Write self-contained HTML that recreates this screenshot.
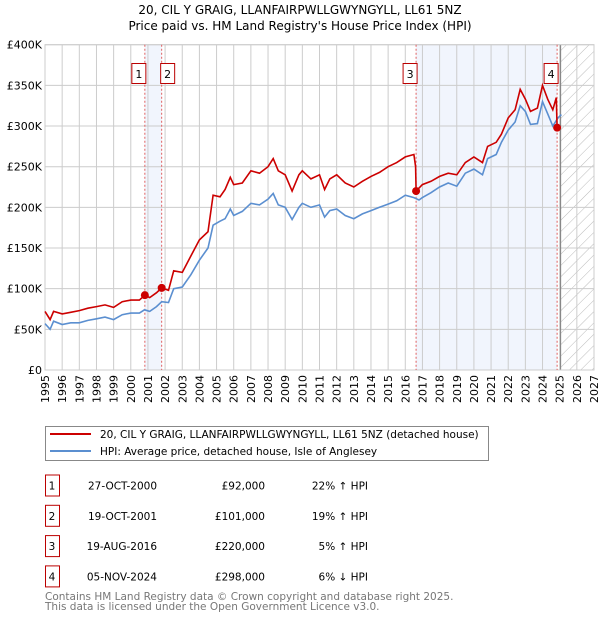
<!DOCTYPE html>
<html><head><meta charset="utf-8"><style>
body{margin:0;background:#fff;width:600px;height:620px;overflow:hidden;font-family:"DejaVu Sans","Liberation Sans",sans-serif;}
svg text{font-family:"DejaVu Sans","Liberation Sans",sans-serif;}
</style></head><body>
<svg id="chart" width="600" height="620" xmlns="http://www.w3.org/2000/svg">
<defs><pattern id="hatch" width="8" height="8" patternUnits="userSpaceOnUse" patternTransform="rotate(45)"><line x1="0" y1="0" x2="0" y2="8" stroke="#bbb" stroke-width="1"/></pattern></defs>
<text x="300" y="14" text-anchor="middle" font-size="12">20, CIL Y GRAIG, LLANFAIRPWLLGWYNGYLL, LL61 5NZ</text>
<text x="300" y="30" text-anchor="middle" font-size="12">Price paid vs. HM Land Registry's House Price Index (HPI)</text>
<g id="plot"></g>
<rect x="45.5" y="426.5" width="443" height="34" fill="#fff" stroke="#888"/>
<line x1="50" y1="434" x2="91" y2="434" stroke="#cc0000" stroke-width="2"/>
<text x="100" y="438" font-size="10.5">20, CIL Y GRAIG, LLANFAIRPWLLGWYNGYLL, LL61 5NZ (detached house)</text>
<line x1="50" y1="451" x2="91" y2="451" stroke="#5b8fd0" stroke-width="2"/>
<text x="100" y="455" font-size="10.5">HPI: Average price, detached house, Isle of Anglesey</text>
<g id="table" font-size="10.5"></g>
<text x="45" y="600" font-size="10.5" fill="#777">Contains HM Land Registry data © Crown copyright and database right 2025.</text>
<text x="45" y="610" font-size="10.5" fill="#777">This data is licensed under the Open Government Licence v3.0.</text>
</svg>
<script>
const hpiYears=[1995,1995.3,1995.5,1996,1996.5,1997,1997.5,1998,1998.5,1999,1999.5,2000,2000.5,2000.8,2001.1,2001.5,2001.8,2002.2,2002.5,2003,2003.5,2004,2004.5,2004.8,2005.2,2005.5,2005.8,2006,2006.5,2007,2007.5,2008,2008.3,2008.6,2009,2009.4,2009.8,2010,2010.5,2011,2011.3,2011.6,2012,2012.5,2013,2013.5,2014,2014.5,2015,2015.5,2016,2016.5,2016.8,2017,2017.5,2018,2018.5,2019,2019.5,2020,2020.5,2020.8,2021.3,2021.6,2022,2022.4,2022.7,2023,2023.3,2023.7,2024,2024.3,2024.6,2024.9,2025.1];
const hpiValues=[57,50,60,56,58,58,61,63,65,62,68,70,70,74,72,78,84,83,100,102,117,135,150,178,183,186,198,190,195,205,203,210,217,203,200,185,200,205,200,203,188,196,198,190,186,192,196,200,204,208,215,212,209,212,218,225,230,226,242,247,240,260,265,280,295,305,325,318,302,303,330,315,300,310,314];
const priceYears=[1995,1995.3,1995.5,1996,1996.5,1997,1997.5,1998,1998.5,1999,1999.5,2000,2000.5,2000.82,2001.1,2001.5,2001.8,2002.2,2002.5,2003,2003.5,2004,2004.5,2004.8,2005.2,2005.5,2005.8,2006,2006.5,2007,2007.5,2008,2008.3,2008.6,2009,2009.4,2009.8,2010,2010.5,2011,2011.3,2011.6,2012,2012.5,2013,2013.5,2014,2014.5,2015,2015.5,2016,2016.5,2016.6,2016.63,2017,2017.5,2018,2018.5,2019,2019.5,2020,2020.5,2020.8,2021.3,2021.6,2022,2022.4,2022.7,2023,2023.3,2023.7,2024,2024.3,2024.6,2024.8,2024.85];
const priceValues=[72,62,72,69,71,73,76,78,80,77,84,86,86,92,89,95,101,98,122,120,140,160,170,215,213,222,237,228,230,245,242,250,260,245,240,220,240,245,235,240,222,235,240,230,225,232,238,243,250,255,262,265,250,220,228,232,238,242,240,255,262,255,275,280,290,310,320,345,333,318,322,350,333,320,335,298];
const saleLabels=["1","2","3","4"];
const saleYears=[2000.82,2001.8,2016.63,2024.85];
const saleValues=[92,101,220,298];
const saleDates=["27-OCT-2000","19-OCT-2001","19-AUG-2016","05-NOV-2024"];
const salePrices=["£92,000","£101,000","£220,000","£298,000"];
const saleHpi=["22% ↑ HPI","19% ↑ HPI","5% ↑ HPI","6% ↓ HPI"];
const yTicks=[0,50,100,150,200,250,300,350,400];
const yTickLabels=["£0","£50K","£100K","£150K","£200K","£250K","£300K","£350K","£400K"];
const xTicks=[1995,1996,1997,1998,1999,2000,2001,2002,2003,2004,2005,2006,2007,2008,2009,2010,2011,2012,2013,2014,2015,2016,2017,2018,2019,2020,2021,2022,2023,2024,2025,2026,2027];
const dataEnd=2025.05;

const L=45,R=594,T=44.7,B=370,X0=1995,X1=2027;
const xs=y=>L+(y-X0)/(X1-X0)*(R-L);
const ys=v=>B-v/400*(B-T);
const NS="http://www.w3.org/2000/svg";
const plot=document.getElementById('plot');
function mk(tag,attrs,parent){const e=document.createElementNS(NS,tag);for(const k in attrs)e.setAttribute(k,attrs[k]);(parent||plot).appendChild(e);return e;}

let e;
e=mk('rect',{x:L,y:T,width:R-L,height:B-T,fill:'#fff'});


e=mk('rect',{x:xs(saleYears[0]),y:T,width:xs(saleYears[1])-xs(saleYears[0]),height:B-T,fill:'#eef3fc',opacity:0.8});


e=mk('rect',{x:xs(saleYears[2]),y:T,width:xs(saleYears[3])-xs(saleYears[2]),height:B-T,fill:'#eef3fc',opacity:0.8});


e=mk('rect',{x:xs(dataEnd),y:T,width:R-xs(dataEnd),height:B-T,fill:'url(#hatch)'});


xTicks.forEach(t=>{
  e=mk('line',{x1:xs(t),x2:xs(t),y1:T,y2:B,stroke:'#ccc','stroke-width':1});
  
  
  e=mk('text',{x:0,y:0,'font-size':11,'text-anchor':'end',transform:`translate(${xs(t)+4},${B+5}) rotate(-90)`});
  e.textContent=t;
  
  
});
yTicks.forEach((t,i)=>{
  e=mk('line',{x1:L,x2:R,y1:ys(t),y2:ys(t),stroke:'#ccc','stroke-width':1});
  
  
  e=mk('text',{x:L-3,y:ys(t)+4,'font-size':11,'text-anchor':'end'});
  e.textContent=yTickLabels[i];
  
  
});
e=mk('line',{x1:xs(dataEnd),x2:xs(dataEnd),y1:T,y2:B,stroke:'#888','stroke-width':1.2});


e=mk('rect',{x:L,y:T,width:R-L,height:B-T,fill:'none',stroke:'#ccc'});


saleYears.forEach((s,i)=>{
  e=mk('line',{x1:xs(s),x2:xs(s),y1:T,y2:B,stroke:'#e06060','stroke-width':1,'stroke-dasharray':'2,2'});
  
  
});
const pts=(xa,va)=>xa.map((x,i)=>xs(x).toFixed(1)+','+ys(va[i]).toFixed(1)).join(' ');
e=mk('polyline',{points:pts(hpiYears,hpiValues),fill:'none',stroke:'#5b8fd0','stroke-width':1.6});


e=mk('polyline',{points:pts(priceYears,priceValues),fill:'none',stroke:'#cc0000','stroke-width':1.6});


const boxOff=[-6,6,-6,-6];
saleYears.forEach((s,i)=>{
  e=mk('circle',{cx:xs(s),cy:ys(saleValues[i]),r:4,fill:'#cc0000'});
  
  
  const bx=xs(s)+boxOff[i];
  e=mk('rect',{x:bx-7,y:63.5,width:14,height:20,fill:'#fff',stroke:'#b00'});
  
  
  e=mk('text',{x:bx,y:78,'font-size':11,'text-anchor':'middle'});
  e.textContent=saleLabels[i];
  
  
});
const tb=document.getElementById('table');
saleLabels.forEach((lab,i)=>{
  const yc=485.5+i*30.3;
  e=mk('rect',{x:45.5,y:yc-10.5,width:14,height:21,fill:'none',stroke:'#b00'},tb);
  
  
  e=mk('text',{x:52,y:yc+4,'text-anchor':'middle'},tb);e.textContent=lab;
  
  
  e=mk('text',{x:157,y:yc+4,'text-anchor':'end'},tb);e.textContent=saleDates[i];
  
  
  e=mk('text',{x:265,y:yc+4,'text-anchor':'end'},tb);e.textContent=salePrices[i];
  
  
  e=mk('text',{x:368,y:yc+4,'text-anchor':'end'},tb);e.textContent=saleHpi[i];
  
  
});
</script>
</body></html>
